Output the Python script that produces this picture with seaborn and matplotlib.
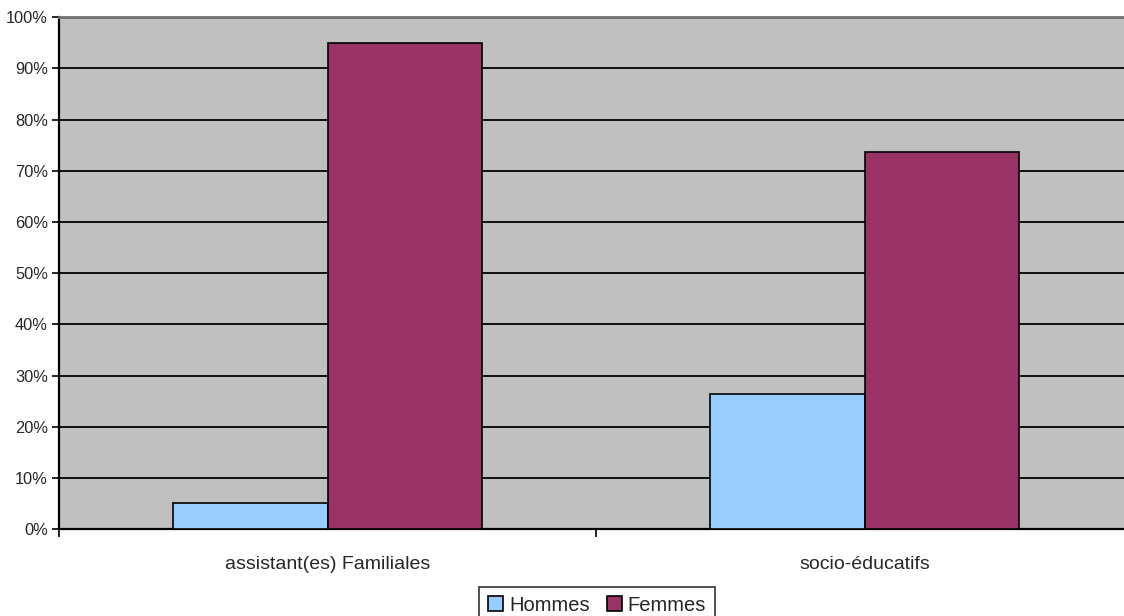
import matplotlib
matplotlib.use("Agg")
import matplotlib.pyplot as plt
import seaborn as sns
import pandas as pd
from matplotlib.ticker import FuncFormatter

categories = ["assistant(es) Familiales", "socio-éducatifs"]
series = ["Hommes", "Femmes"]
hommes = [5.1, 26.4]
femmes = [94.9, 73.6]
y_ticks = list(range(0, 101, 10))

colors = {"Hommes": "#99CCFF", "Femmes": "#993366"}

df = pd.DataFrame({
    "categorie": categories * 2,
    "sexe": ["Hommes"] * len(categories) + ["Femmes"] * len(categories),
    "valeur": hommes + femmes,
})

sns.set_style("white")
plt.rcParams["font.family"] = ["Liberation Sans", "DejaVu Sans"]

fig = plt.figure(figsize=(11.24, 6.16), dpi=100)
ax = fig.add_axes([59 / 1124, 1 - 529.3 / 616, (1124 - 59) / 1124, (529.3 - 17.3) / 616])
ax.set_facecolor("#C0C0C0")

sns.barplot(data=df, x="categorie", y="valeur", hue="sexe", hue_order=series,
            palette=colors, width=0.574, edgecolor="black", linewidth=1.2,
            saturation=1, ax=ax, zorder=3)

ax.set_ylim(0, 100)
ax.set_xlim(-0.5, -0.5 + (1124 - 59) / 537)
ax.set_yticks(y_ticks)
ax.yaxis.set_major_formatter(FuncFormatter(lambda v, p: f"{int(v)}%"))
ax.grid(axis="y", color="black", linewidth=1.3, zorder=1)
ax.set_axisbelow(True)

ax.set_xlabel("")
ax.set_ylabel("")

# category tick marks sit between the groups; labels stay centered
ax.set_xticks([0, 1])
ax.set_xticklabels(categories, fontsize=14)
ax.tick_params(axis="x", which="major", length=0, pad=19, bottom=False)
ax.set_xticks([-0.5, 0.5], minor=True)
ax.tick_params(axis="x", which="minor", length=6, width=1.2, color="black",
               direction="out", bottom=True)
ax.tick_params(axis="y", length=5, width=1.2, color="black", direction="out",
               labelsize=11.8, pad=3, left=True)

for side in ["left", "bottom"]:
    ax.spines[side].set_color("black")
    ax.spines[side].set_linewidth(1.6)
ax.spines["top"].set_color("#707070")
ax.spines["top"].set_linewidth(2)
ax.spines["right"].set_visible(False)

handles, labels = ax.get_legend_handles_labels()
if ax.legend_:
    ax.legend_.remove()
leg = fig.legend(handles, labels, loc="upper center",
                 bbox_to_anchor=(597 / 1124, 1 - 586.5 / 616), ncol=2,
                 frameon=True, fancybox=False, edgecolor="black",
                 fontsize=14.5, handlelength=0.75, handleheight=0.75,
                 handletextpad=0.3, columnspacing=0.85, borderpad=0.45,
                 borderaxespad=0)
leg.get_frame().set_linewidth(1.2)

fig.savefig("out.png", dpi=100)
